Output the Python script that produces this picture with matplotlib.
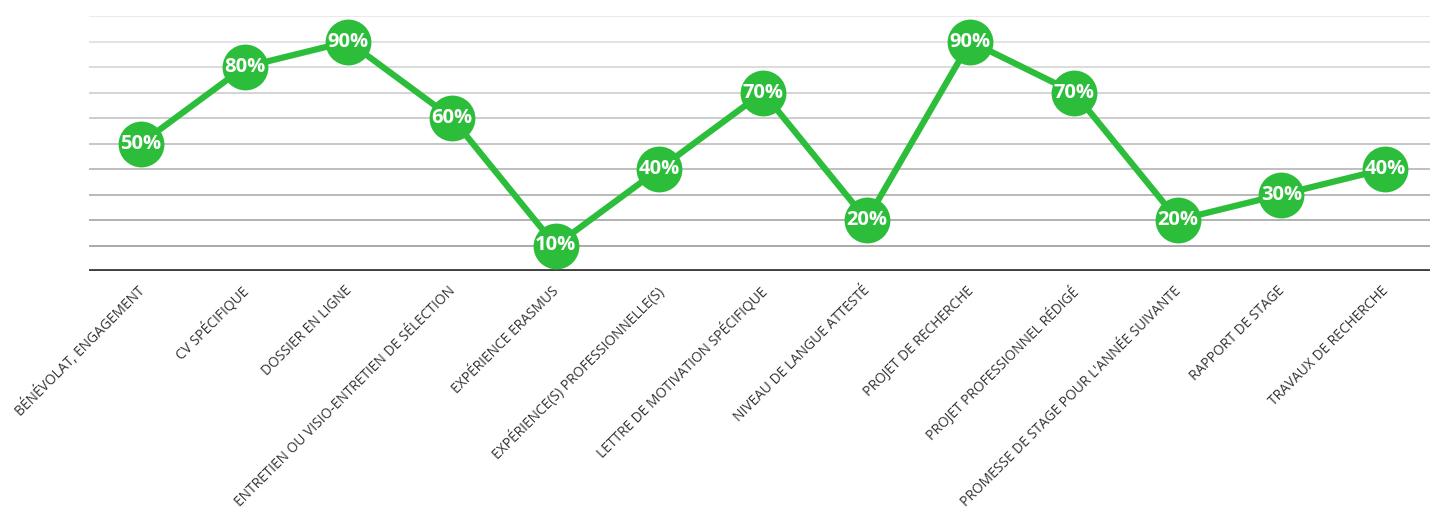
import matplotlib.pyplot as plt
import matplotlib.transforms as mtransforms
import numpy as np

plt.rcParams['font.family'] = ['Open Sans', 'DejaVu Sans']

categories = [
    "BÉNÉVOLAT, ENGAGEMENT",
    "CV SPÉCIFIQUE",
    "DOSSIER EN LIGNE",
    "ENTRETIEN OU VISIO-ENTRETIEN DE SÉLECTION",
    "EXPÉRIENCE ERASMUS",
    "EXPÉRIENCE(S) PROFESSIONNELLE(S)",
    "LETTRE DE MOTIVATION SPÉCIFIQUE",
    "NIVEAU DE LANGUE ATTESTÉ",
    "PROJET DE RECHERCHE",
    "PROJET PROFESSIONNEL RÉDIGÉ",
    "PROMESSE DE STAGE POUR L'ANNÉE SUIVANTE",
    "RAPPORT DE STAGE",
    "TRAVAUX DE RECHERCHE",
]
values = [50, 80, 90, 60, 10, 40, 70, 20, 90, 70, 20, 30, 40]
grid_levels = [10, 20, 30, 40, 50, 60, 70, 80, 90, 100]

green = '#2cbe3b'

fig = plt.figure(figsize=(14.3, 5.09), dpi=100)
ax = fig.add_axes([89 / 1430, 1 - 271 / 509, 1348 / 1430, 255 / 509])

x = np.arange(len(categories))

# gridlines get lighter towards the top
for i, lvl in enumerate(grid_levels):
    g = 0.64 + 0.27 * i / (len(grid_levels) - 1)
    ax.axhline(lvl, color=(g, g, g), lw=1.3, zorder=1)
ax.axhline(0, color='#404040', lw=3.5, zorder=2)

ax.plot(x, values, color=green, lw=4.5, marker='o', markersize=33,
        markeredgewidth=0, zorder=3, solid_capstyle='round')
for xi, v in zip(x, values):
    ax.text(xi, v, f"{v}%", ha='center', va='center', color='white',
            fontsize=14.5, fontweight='bold', zorder=4)

ax.set_xlim(-0.5, len(categories) - 0.5)
ax.set_ylim(0, 100)
ax.set_yticks([])
ax.set_xticks(x)
ax.set_xticklabels(categories, rotation=45, ha='right', va='top',
                   rotation_mode='anchor', fontsize=9.9, color='#333333')
ax.tick_params(axis='x', length=0, pad=9)
# nudge labels a little to the left
shift = mtransforms.ScaledTranslation(-4 / 100, 0, fig.dpi_scale_trans)
for lbl in ax.get_xticklabels():
    lbl.set_transform(lbl.get_transform() + shift)
for s in ax.spines.values():
    s.set_visible(False)

fig.savefig('out.png', dpi=100)
